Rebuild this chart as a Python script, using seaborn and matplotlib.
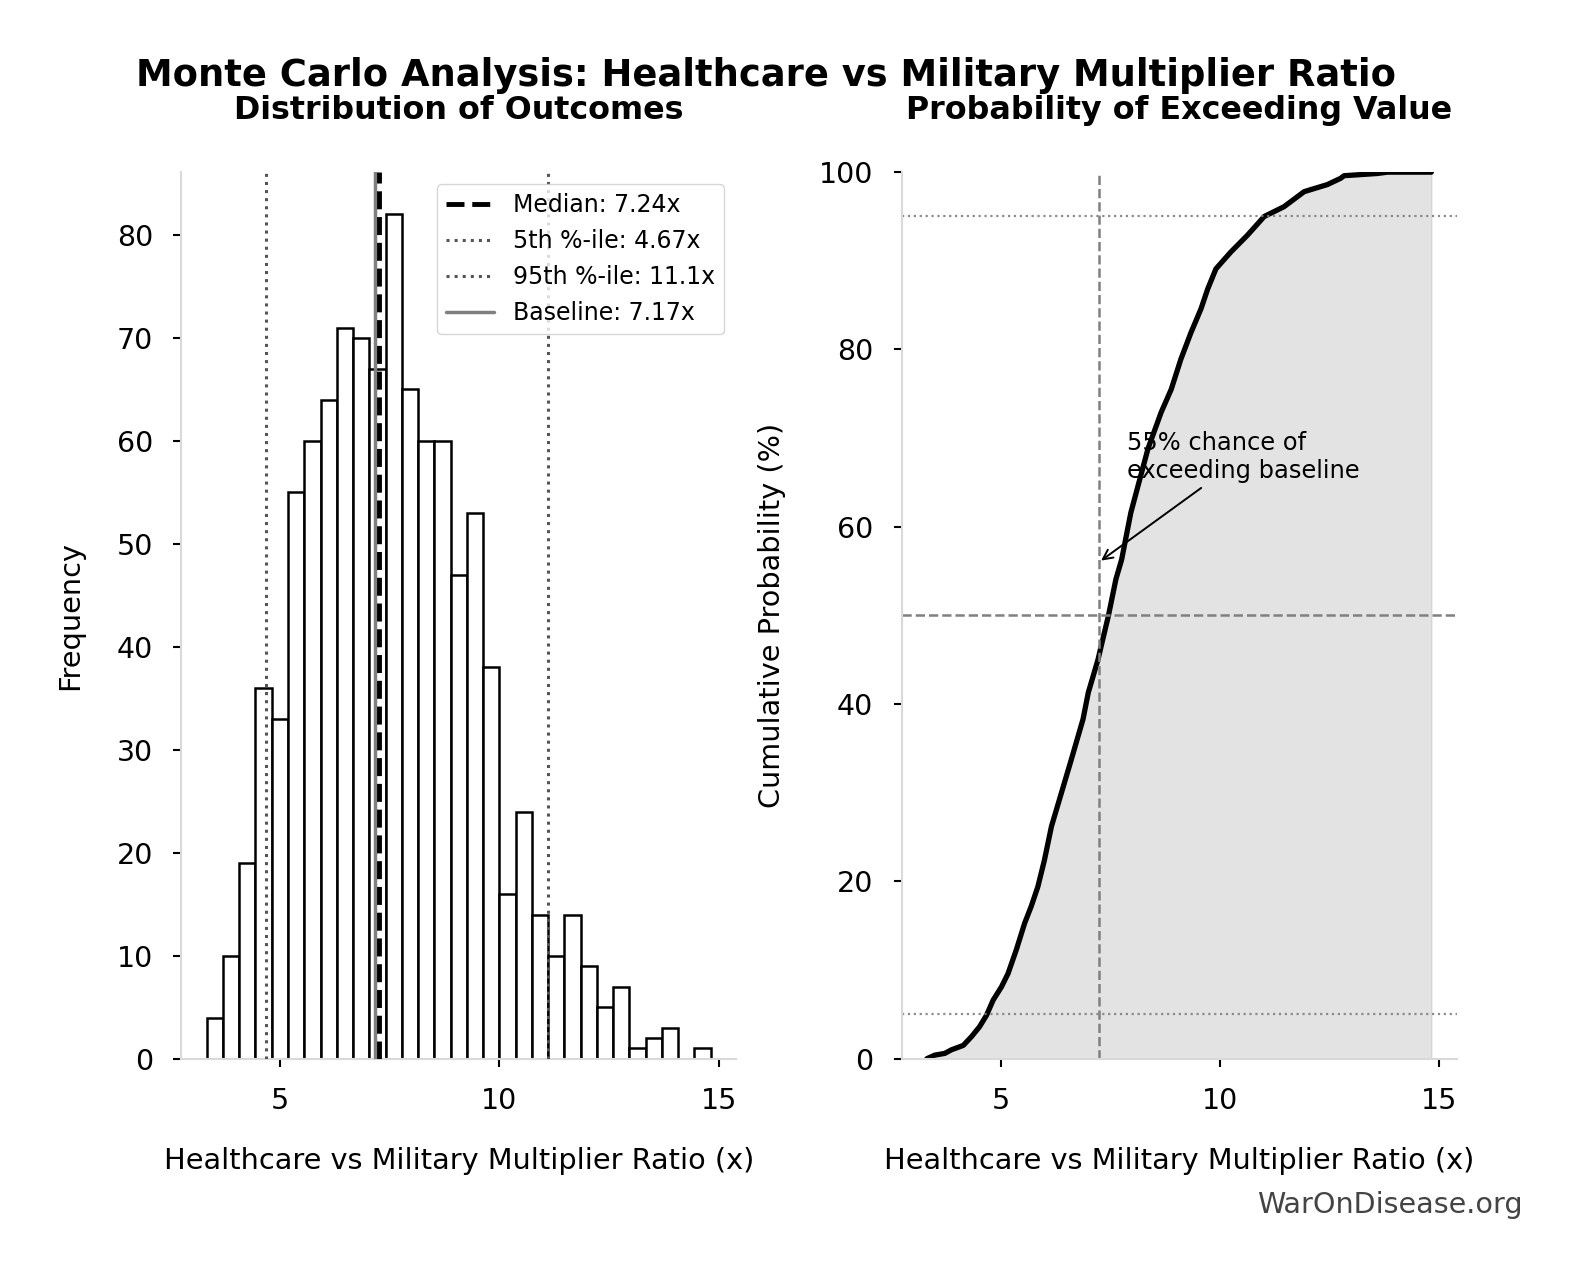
import matplotlib
matplotlib.use("Agg")
import matplotlib.pyplot as plt
import numpy as np
import pandas as pd
import seaborn as sns

# histogram (counts per bin)
bin_start = 3.32
bin_width = 0.371
counts = [4, 10, 19, 36, 33, 55, 60, 64, 71, 70, 67, 82, 65, 60, 60, 47,
          53, 38, 16, 24, 14, 10, 14, 9, 5, 7, 1, 2, 3, 0, 1]

median_val = 7.24
p5_val = 4.67
p95_val = 11.1
baseline_val = 7.17

cdf_x = [3.32, 3.50, 3.73, 3.88, 4.15, 4.34, 4.52, 4.68, 4.83, 5.02, 5.17,
         5.36, 5.55, 5.70, 5.85, 6.00, 6.16, 6.61, 6.88, 7.00, 7.22, 7.46,
         7.63, 7.76, 7.97, 8.36, 8.66, 8.89, 9.11, 9.34, 9.57, 9.72, 9.91,
         10.25, 10.63, 11.01, 11.46, 11.92, 12.45, 12.75, 12.83, 13.59,
         13.82, 14.82]
cdf_pct = [0, 0.4, 0.6, 1.0, 1.5, 2.5, 3.6, 4.9, 6.6, 8.1, 9.6,
           12.3, 15.3, 17.2, 19.4, 22.4, 26.2, 33.7, 38.3, 41.3, 45.0, 50.0,
           54.1, 56.3, 61.6, 68.8, 72.9, 75.5, 78.9, 81.9, 84.6, 86.8, 89.1,
           91.0, 92.9, 95.0, 96.1, 97.8, 98.6, 99.3, 99.6, 99.85,
           100, 100]

sns.set_theme(style="ticks")
plt.rcParams['font.family'] = ['DejaVu Sans']
plt.rcParams['axes.edgecolor'] = '#d9d9d9'
plt.rcParams['axes.linewidth'] = 1.5
for key in ('text.color', 'axes.labelcolor', 'xtick.color', 'ytick.color'):
    plt.rcParams[key] = 'black'

edges = (bin_start + bin_width * np.arange(len(counts) + 1)).tolist()
hist_df = pd.DataFrame({'ratio': [(a + b) / 2 for a, b in zip(edges[:-1], edges[1:])],
                        'count': counts})

fig = plt.figure(figsize=(15.81, 12.8), dpi=100)
ax1 = fig.add_axes([0.1148, 0.1729, 0.3507, 0.6926])
ax2 = fig.add_axes([0.5703, 0.1729, 0.3510, 0.6926])

# ---- left: histogram
sns.histplot(data=hist_df, x='ratio', weights='count', bins=edges, color='white',
             edgecolor='black', linewidth=1.8, alpha=1, ax=ax1)
ax1.axvline(baseline_val, color='gray', lw=2.5, label=f'Baseline: {baseline_val}x', zorder=3)
ax1.axvline(median_val, color='black', ls='--', lw=3.5, label=f'Median: {median_val}x', zorder=4)
ax1.axvline(p5_val, color='#555555', ls=':', lw=2.2, label=f'5th %-ile: {p5_val}x', zorder=4)
ax1.axvline(p95_val, color='#555555', ls=':', lw=2.2, label=f'95th %-ile: {p95_val}x', zorder=4)
h, l = ax1.get_legend_handles_labels()
order = [1, 2, 3, 0]
ax1.legend([h[i] for i in order], [l[i] for i in order], loc='upper right',
           fontsize=17, edgecolor='#cccccc')
ax1.set_title('Distribution of Outcomes', fontsize=22.9, fontweight='bold', pad=38.5)
ax1.set_xlabel('Healthcare vs Military Multiplier Ratio (x)', fontsize=20.7, labelpad=23)
ax1.set_ylabel('Frequency', fontsize=20.7, labelpad=23.5)
ax1.set_xticks([5, 10, 15])

# ---- right: CDF
ax2.fill_between(cdf_x, cdf_pct, color='gray', alpha=0.22)
sns.lineplot(x=cdf_x, y=cdf_pct, color='black', lw=3.8, sort=False,
             estimator=None, ax=ax2)
ax2.axhline(95, color='gray', ls=':', lw=1.6, alpha=0.9)
ax2.axhline(5, color='gray', ls=':', lw=1.6, alpha=0.9)
ax2.axhline(50, color='gray', ls='--', lw=1.8)
ax2.axvline(median_val, color='gray', ls='--', lw=1.8)
ax2.annotate('55% chance of\nexceeding baseline', xy=(median_val, 56),
             xytext=(7.89, 65.5), fontsize=17.4,
             arrowprops=dict(arrowstyle='->', color='black', lw=1.4))
ax2.set_ylim(0, 100)
ax2.set_yticks([0, 20, 40, 60, 80, 100])
ax2.set_xticks([5, 10, 15])
ax2.set_title('Probability of Exceeding Value', fontsize=22.9, fontweight='bold', pad=38.5)
ax2.set_xlabel('Healthcare vs Military Multiplier Ratio (x)', fontsize=20.7, labelpad=23)
ax2.set_ylabel('Cumulative Probability (%)', fontsize=20.7, labelpad=23.5)

for ax in (ax1, ax2):
    sns.despine(ax=ax)
    ax.tick_params(labelsize=20.5, length=6, width=1.5, color='black', pad=14.5)

fig.suptitle('Monte Carlo Analysis: Healthcare vs Military Multiplier Ratio',
             x=0.4845, y=1 - 85.5 / 1280, va='baseline', fontsize=26.6, fontweight='bold')
fig.text(0.963, 1 - 1213 / 1280, 'WarOnDisease.org', ha='right', va='baseline',
         fontsize=20.6, color='#444444')

fig.savefig('out.png', dpi=100)
